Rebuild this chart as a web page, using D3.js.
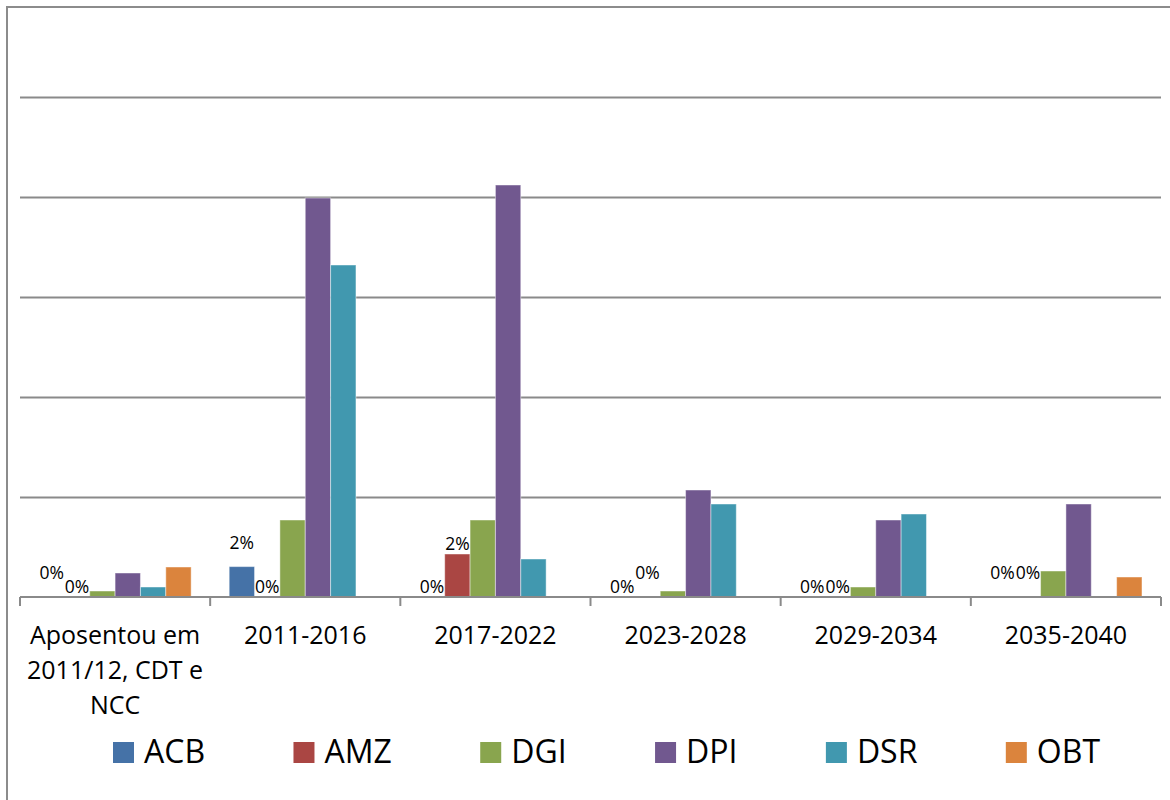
<!DOCTYPE html>
<html>
<head>
<meta charset="utf-8">
<script src="https://cdn.jsdelivr.net/npm/d3@7"></script>
<style>
  html, body { margin: 0; padding: 0; background: #fff; }
  svg { display: block; font-family: "Open Sans", "Noto Sans", sans-serif; }
</style>
</head>
<body>
<svg id="chart" width="1170" height="800"></svg>
<script>
// Categories (retirement periods) and series (units), values in percent
const categories = ["Aposentou em 2011/12, CDT e NCC", "2011-2016", "2017-2022", "2023-2028", "2029-2034", "2035-2040"];
const seriesNames = ["ACB", "AMZ", "DGI", "DPI", "DSR", "OBT"];
const acb = [0, 1.52, 0, 0, 0, 0];
const amz = [0, 0, 2.15, 0, 0, 0];
const dgi = [0.3, 3.85, 3.85, 0.3, 0.5, 1.3];
const dpi = [1.2, 19.95, 20.6, 5.35, 3.85, 4.65];
const dsr = [0.5, 16.6, 1.9, 4.65, 4.15, 0];
const obt = [1.5, 0, 0, 0, 0, 1.0];
const gridTicks = [5, 10, 15, 20, 25];

const seriesValues = [acb, amz, dgi, dpi, dsr, obt];
const colors = ["#4572A7", "#AA4643", "#89A54E", "#71588F", "#4198AF", "#DB843D"];
// Series that carry value labels
const labelled = ["ACB", "AMZ"];
// Extra upward shift (px) for labels that sit above crowded neighbours
const labelLift = {
  ACB: [14, 14, 0, 0, 0, 14],
  AMZ: [0, 0, 0, 14, 0, 14]
};

const svg = d3.select("#chart");
const plot = { left: 20, right: 1161, top: 97, bottom: 597 };

// Chart frame
svg.append("rect")
  .attr("x", 7).attr("y", 7)
  .attr("width", 1300).attr("height", 1000)
  .attr("fill", "#fff")
  .attr("stroke", "#8c8c8c").attr("stroke-width", 2);

const x0 = d3.scaleBand().domain(categories).range([plot.left, plot.right]).padding(0);
const x1 = d3.scaleBand().domain(seriesNames).range([0, x0.bandwidth()])
  .paddingInner(0).paddingOuter(0.75);
const y = d3.scaleLinear().domain([0, 25]).range([plot.bottom, plot.top]);

// Horizontal gridlines
const grid = svg.append("g")
  .attr("transform", `translate(${plot.left},0)`)
  .call(d3.axisLeft(y).tickValues(gridTicks).tickSize(-(plot.right - plot.left)).tickFormat(""));
grid.select(".domain").remove();
grid.selectAll(".tick line").attr("stroke", "#8a8a8a").attr("stroke-width", 2);

// Bars
const rows = [];
categories.forEach((c, i) => {
  seriesNames.forEach((s, j) => {
    rows.push({ cat: c, ci: i, series: s, value: seriesValues[j][i], color: colors[j] });
  });
});

svg.append("g").selectAll("rect")
  .data(rows.filter(d => d.value > 0))
  .join("rect")
  .attr("x", d => x0(d.cat) + x1(d.series))
  .attr("y", d => y(d.value))
  .attr("width", x1.bandwidth())
  .attr("height", d => y(0) - y(d.value))
  .attr("fill", d => d.color)
  .attr("stroke", "#ffffff").attr("stroke-opacity", 0.45).attr("stroke-width", 1);

// Category axis with ticks at group boundaries
const axis = svg.append("g").attr("transform", `translate(0,${plot.bottom})`);
axis.append("line")
  .attr("x1", plot.left).attr("x2", plot.right)
  .attr("stroke", "#8a8a8a").attr("stroke-width", 2);
const bounds = categories.map(c => x0(c)).concat([plot.right]);
axis.selectAll("line.tk").data(bounds).join("line")
  .attr("class", "tk")
  .attr("x1", d => d).attr("x2", d => d)
  .attr("y1", 0).attr("y2", 9)
  .attr("stroke", "#8a8a8a").attr("stroke-width", 2);

// Category labels, wrapped to the group width
const catLabels = svg.append("g")
  .attr("font-size", 25).attr("fill", "#000").attr("text-anchor", "middle");
categories.forEach(c => {
  const cx = x0(c) + x0.bandwidth() / 2;
  const t = catLabels.append("text").attr("x", cx).attr("y", 644);
  const words = c.split(" ");
  let line = [];
  let tspan = t.append("tspan").attr("x", cx).attr("dy", 0);
  words.forEach(w => {
    line.push(w);
    tspan.text(line.join(" "));
    if (tspan.node().getComputedTextLength() > x0.bandwidth() - 6 && line.length > 1) {
      line.pop();
      tspan.text(line.join(" "));
      line = [w];
      tspan = t.append("tspan").attr("x", cx).attr("dy", 35).text(w);
    }
  });
});

// Value labels for ACB and AMZ
const fmt = v => Math.round(v) + "%";
svg.append("g").attr("font-size", 17.5).attr("fill", "#000").attr("text-anchor", "middle")
  .selectAll("text")
  .data(rows.filter(d => labelled.includes(d.series)))
  .join("text")
  .attr("x", d => x0(d.cat) + x1(d.series) + x1.bandwidth() / 2)
  .attr("y", d => y(d.value) - 4 - labelLift[d.series][d.ci])
  .text(d => fmt(d.value));

// Legend: one row, spread between fixed start and end
const legend = svg.append("g").attr("font-size", 32).attr("fill", "#000");
const items = seriesNames.map((s, i) => {
  const g = legend.append("g");
  g.append("rect").attr("width", 21).attr("height", 21).attr("y", 742).attr("fill", colors[i]);
  const tx = g.append("text").attr("x", 31).attr("y", 763).text(s);
  return { g, w: 31 + tx.node().getComputedTextLength() };
});
const legendStart = 113, legendEnd = 1100;
const gap = (legendEnd - legendStart - d3.sum(items, d => d.w)) / (items.length - 1);
let lx = legendStart;
items.forEach(it => {
  it.g.attr("transform", `translate(${lx},0)`);
  lx += it.w + gap;
});
</script>
</body>
</html>
